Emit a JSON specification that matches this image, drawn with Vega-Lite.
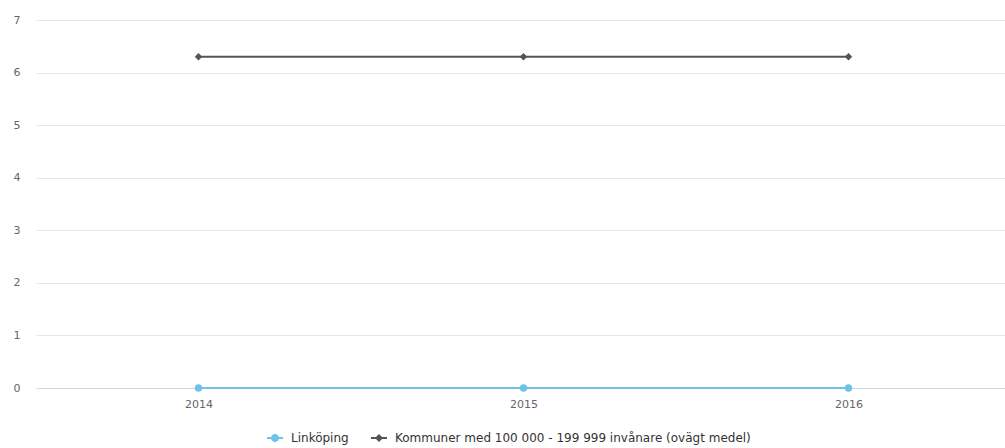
{
  "$schema": "https://vega.github.io/schema/vega-lite/v6.json",
  "width": 975,
  "height": 368,
  "autosize": {"type": "none"},
  "padding": {"left": 36, "top": 20, "right": 0, "bottom": 60},
  "background": "white",
  "config": {
    "font": "DejaVu Sans",
    "view": {"stroke": null},
    "legend": {
      "orient": "none",
      "legendX": 231,
      "legendY": 410,
      "direction": "horizontal",
      "title": null,
      "symbolSize": 256,
      "symbolOpacity": 1,
      "symbolStrokeWidth": 0,
      "labelFontSize": 12,
      "labelColor": "#333333",
      "labelLimit": 600,
      "labelOffset": 8,
      "columnPadding": 22
    }
  },
  "data": {
    "values": [
      {"year": "2014", "series": "Linköping", "value": 0},
      {"year": "2015", "series": "Linköping", "value": 0},
      {"year": "2016", "series": "Linköping", "value": 0},
      {"year": "2014", "series": "Kommuner med 100 000 - 199 999 invånare (ovägt medel)", "value": 6.3},
      {"year": "2015", "series": "Kommuner med 100 000 - 199 999 invånare (ovägt medel)", "value": 6.3},
      {"year": "2016", "series": "Kommuner med 100 000 - 199 999 invånare (ovägt medel)", "value": 6.3}
    ]
  },
  "encoding": {
    "x": {
      "field": "year", "type": "ordinal",
      "scale": {"type": "point", "padding": 0.5},
      "axis": {"title": null, "labelAngle": 0, "ticks": false, "domainColor": "#ccd6eb", "labelColor": "#666666", "labelFontSize": 11, "labelPadding": 10, "grid": false}
    },
    "y": {
      "field": "value", "type": "quantitative",
      "scale": {"domain": [0, 7], "nice": false},
      "axis": {"title": null, "tickCount": 7, "ticks": false, "domain": false, "gridColor": "#e6e6e6", "labelColor": "#666666", "labelFontSize": 11, "labelPadding": 16}
    },
    "color": {
      "field": "series", "type": "nominal",
      "scale": {"domain": ["Linköping", "Kommuner med 100 000 - 199 999 invånare (ovägt medel)"], "range": ["#6ec1e8", "#555555"]},
      "legend": null
    }
  },
  "layer": [
    {"mark": {"type": "line", "strokeWidth": 2}},
    {
      "mark": {"type": "point", "filled": true, "opacity": 1, "size": 55},
      "encoding": {
        "shape": {"field": "series", "type": "nominal", "scale": {"domain": ["Linköping", "Kommuner med 100 000 - 199 999 invånare (ovägt medel)"], "range": ["circle", "diamond"]}, "legend": null}
      }
    },
    {
      "mark": {"type": "point", "filled": true, "opacity": 0},
      "encoding": {
        "color": {
          "field": "series", "type": "nominal",
          "scale": {"domain": ["Linköping", "Kommuner med 100 000 - 199 999 invånare (ovägt medel)"], "range": ["#6ec1e8", "#555555"]},
          "legend": {}
        },
        "shape": {
          "field": "series", "type": "nominal",
          "scale": {"domain": ["Linköping", "Kommuner med 100 000 - 199 999 invånare (ovägt medel)"], "range": ["M-1,-0.12H1V0.12H-1Z M-0.5,0A0.5,0.5 0 1,1 0.5,0A0.5,0.5 0 1,1 -0.5,0Z", "M-1,-0.12H1V0.12H-1Z M0,-0.5L0.5,0L0,0.5L-0.5,0Z"]},
          "legend": {}
        }
      }
    }
  ],
  "resolve": {"scale": {"shape": "independent"}, "legend": {"color": "independent", "shape": "independent"}}
}
